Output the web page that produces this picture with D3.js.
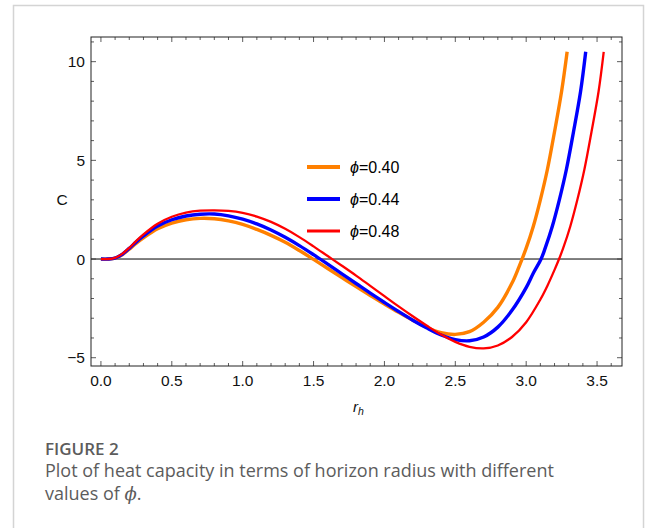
<!DOCTYPE html>
<html>
<head>
<meta charset="utf-8">
<script src="https://cdn.jsdelivr.net/npm/d3@7"></script>
<style>
  body { margin: 0; background: #fff; }
  svg { display: block; }
  .lab { font-family: 'Liberation Sans', Arial, sans-serif; fill: #111; }
  .cap { font-family: 'Open Sans', 'Noto Sans', sans-serif; fill: #5c5c5c; }
</style>
</head>
<body>
<svg id="chart" width="656" height="528"></svg>
<script>
// values: [r_h, C]
const phi040 = [[0,0],[0.05,0],[0.1,0.04],[0.15,0.22],[0.2,0.5],[0.25,0.8],[0.3,1.07],[0.4,1.53],[0.5,1.82],[0.6,1.99],[0.7,2.06],[0.8,2.04],[0.9,1.93],[1.0,1.75],[1.1,1.5],[1.2,1.2],[1.3,0.85],[1.4,0.43],[1.5,-0.02],[1.6,-0.48],[1.7,-0.94],[1.8,-1.4],[1.9,-1.85],[2.0,-2.28],[2.1,-2.7],[2.2,-3.1],[2.3,-3.47],[2.4,-3.73],[2.5,-3.82],[2.6,-3.68],[2.7,-3.2],[2.8,-2.45],[2.9,-1.22],[2.95,-0.38],[3.0,0.55],[3.05,1.65],[3.1,3.0],[3.15,4.55],[3.2,6.45],[3.25,8.5],[3.289,10.5]];
const phi044 = [[0,0],[0.05,0],[0.1,0.05],[0.15,0.24],[0.2,0.54],[0.25,0.87],[0.3,1.17],[0.4,1.67],[0.5,1.99],[0.6,2.18],[0.7,2.27],[0.8,2.28],[0.9,2.19],[1.0,2.02],[1.1,1.78],[1.2,1.47],[1.3,1.1],[1.4,0.68],[1.5,0.22],[1.6,-0.26],[1.7,-0.75],[1.8,-1.24],[1.9,-1.73],[2.0,-2.2],[2.1,-2.66],[2.2,-3.1],[2.3,-3.5],[2.4,-3.85],[2.5,-4.08],[2.6,-4.14],[2.7,-3.95],[2.8,-3.45],[2.9,-2.6],[3.0,-1.45],[3.05,-0.72],[3.105,0],[3.134,0.55],[3.184,1.65],[3.234,3.0],[3.284,4.55],[3.334,6.45],[3.384,8.5],[3.42,10.5]];
const phi048 = [[0,0],[0.05,0],[0.1,0.06],[0.15,0.26],[0.2,0.57],[0.25,0.92],[0.3,1.25],[0.4,1.79],[0.5,2.14],[0.6,2.35],[0.7,2.45],[0.8,2.47],[0.9,2.44],[1.0,2.34],[1.1,2.15],[1.2,1.88],[1.3,1.53],[1.4,1.11],[1.5,0.64],[1.6,0.15],[1.7,-0.34],[1.8,-0.84],[1.9,-1.36],[2.0,-1.88],[2.1,-2.4],[2.2,-2.9],[2.3,-3.38],[2.4,-3.83],[2.5,-4.2],[2.6,-4.45],[2.7,-4.53],[2.8,-4.38],[2.9,-3.95],[3.0,-3.2],[3.1,-2.05],[3.15,-1.35],[3.2,-0.55],[3.232,0],[3.261,0.55],[3.311,1.65],[3.361,3.0],[3.411,4.55],[3.461,6.45],[3.511,8.5],[3.547,10.5]];

const seriesNames = ['0.40', '0.44', '0.48'];
const seriesColors = ['#ff8000', '#0000ff', '#ff0000'];
const seriesWidths = [3.4, 3.4, 2.3];
const xTickLabels = [0, 0.5, 1, 1.5, 2, 2.5, 3, 3.5];
const yTickLabels = [-5, 0, 5, 10];

const series = [phi040, phi044, phi048];

const svg = d3.select('#chart');

// card border
svg.append('rect')
  .attr('x', 13.5).attr('y', 5.5)
  .attr('width', 630).attr('height', 540)
  .attr('fill', 'none').attr('stroke', '#d4d4d4').attr('stroke-width', 1.5);

const frame = { left: 91, right: 622, top: 37, bottom: 366 };

const x = d3.scaleLinear().domain([-0.07, 3.676]).range([frame.left, frame.right]);
const y = d3.scaleLinear().domain([-5.42, 11.25]).range([frame.bottom, frame.top]);

const plot = svg.append('g');
plot.append('defs').append('clipPath').attr('id', 'clip')
  .append('rect')
  .attr('x', frame.left).attr('y', frame.top)
  .attr('width', frame.right - frame.left).attr('height', frame.bottom - frame.top);

// zero line
plot.append('line')
  .attr('x1', frame.left).attr('x2', frame.right)
  .attr('y1', y(0)).attr('y2', y(0))
  .attr('stroke', '#000').attr('stroke-width', 1);

// curves
const line = d3.line()
  .x(d => x(d[0]))
  .y(d => y(d[1]))
  .curve(d3.curveCatmullRom.alpha(0.5));

series.forEach((s, i) => {
  plot.append('path')
    .datum(s)
    .attr('clip-path', 'url(#clip)')
    .attr('fill', 'none')
    .attr('stroke', seriesColors[i])
    .attr('stroke-width', seriesWidths[i])
    .attr('d', line);
});

// frame ticks (pointing inward)
const xMinor = d3.range(0, 37).map(i => i / 10);
const yMinor = d3.range(-5, 12);
const isMajorX = v => Math.abs(v * 2 - Math.round(v * 2)) < 1e-6;

const fmtX = d3.format('.1f');
const fmtY = d => d < 0 ? '\u2212' + Math.abs(d) : String(d);

function xTicks(g, dir, labels) {
  const len = d => isMajorX(d) ? 5 : 3;
  g.selectAll('line').data(xMinor).join('line')
    .attr('x1', d => x(d)).attr('x2', d => x(d))
    .attr('y1', 0).attr('y2', d => dir * len(d))
    .attr('stroke', '#333').attr('stroke-width', 0.8);
  if (labels) {
    g.selectAll('text').data(xTickLabels).join('text')
      .attr('class', 'lab')
      .attr('font-size', 15.5)
      .attr('x', d => x(d)).attr('y', 20)
      .attr('text-anchor', 'middle')
      .text(d => fmtX(d));
  }
}

function yTicks(g, dir, labels) {
  const len = d => d % 5 === 0 ? 5 : 3;
  g.selectAll('line').data(yMinor).join('line')
    .attr('y1', d => y(d)).attr('y2', d => y(d))
    .attr('x1', 0).attr('x2', d => dir * len(d))
    .attr('stroke', '#333').attr('stroke-width', 0.8);
  if (labels) {
    g.selectAll('text').data(yTickLabels).join('text')
      .attr('class', 'lab')
      .attr('font-size', 15.5)
      .attr('x', -6).attr('y', d => y(d))
      .attr('dy', '0.36em')
      .attr('text-anchor', 'end')
      .text(d => fmtY(d));
  }
}

svg.append('g').attr('transform', `translate(0,${frame.bottom})`).call(g => xTicks(g, -1, true));
svg.append('g').attr('transform', `translate(0,${frame.top})`).call(g => xTicks(g, 1, false));
svg.append('g').attr('transform', `translate(${frame.left},0)`).call(g => yTicks(g, 1, true));
svg.append('g').attr('transform', `translate(${frame.right},0)`).call(g => yTicks(g, -1, false));

svg.append('rect')
  .attr('x', frame.left).attr('y', frame.top)
  .attr('width', frame.right - frame.left).attr('height', frame.bottom - frame.top)
  .attr('fill', 'none').attr('stroke', '#222').attr('stroke-width', 1);

// axis labels
svg.append('text')
  .attr('class', 'lab')
  .attr('x', 62).attr('y', 205)
  .attr('text-anchor', 'middle')
  .attr('font-size', 15.5)
  .text('C');

const xl = svg.append('text')
  .attr('class', 'lab')
  .attr('x', 353).attr('y', 412)
  .attr('font-size', 15);
xl.append('tspan').attr('font-style', 'italic').text('r');
xl.append('tspan').attr('font-style', 'italic').attr('font-size', 10.5).attr('dy', 3).text('h');

// legend
const legend = svg.append('g');
seriesNames.forEach((name, i) => {
  const ly = 167 + i * 32;
  legend.append('line')
    .attr('x1', 307).attr('x2', 340).attr('y1', ly).attr('y2', ly)
    .attr('stroke', seriesColors[i]).attr('stroke-width', seriesWidths[i] + 0.6);
  const t = legend.append('text').attr('class', 'lab')
    .attr('font-size', 16).style('fill', '#000')
    .attr('x', 350).attr('y', ly).attr('dy', '0.36em');
  t.append('tspan').attr('font-style', 'italic').text('\u03d5');
  t.append('tspan').text('=' + name);
});

// caption
const cap = svg.append('g');
cap.append('text').attr('class', 'cap').attr('x', 45).attr('y', 455)
  .attr('font-size', 17).attr('font-weight', 600).text('FIGURE 2');
cap.append('text').attr('class', 'cap').attr('x', 45).attr('y', 477)
  .attr('font-size', 18).text('Plot of heat capacity in terms of horizon radius with different');
const c3 = cap.append('text').attr('class', 'cap').attr('x', 45).attr('y', 500).attr('font-size', 18);
c3.append('tspan').text('values of ');
c3.append('tspan').attr('font-style', 'italic').style('font-family', "'DejaVu Serif', serif").text('\u03d5');
c3.append('tspan').text('.');
</script>
</body>
</html>
